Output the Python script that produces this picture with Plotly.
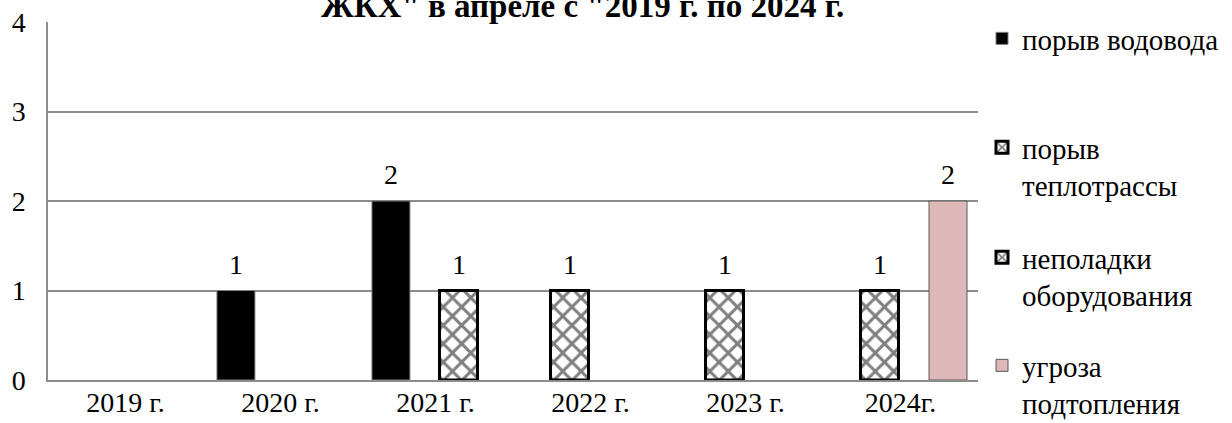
import plotly.graph_objects as go

# данные с диаграммы
years = ["2019 г.", "2020 г.", "2021 г.", "2022 г.", "2023 г.", "2024г."]
vodovod = [0, 1, 2, 0, 0, 0]          # порыв водовода
teplotrassa = [0, 0, 0, 1, 1, 1]      # порыв теплотрассы
oborudovanie = [0, 0, 1, 0, 0, 0]     # неполадки оборудования
podtoplenie = [0, 0, 0, 0, 0, 2]      # угроза подтопления

title_text = 'ЖКХ" в апреле с "2019 г. по 2024 г.'
y_ticks = [0, 1, 2, 3, 4]

FONT = "Liberation Serif"
W, H = 1232, 423
L, R, T, B = 48, 254, 22, 43
BAR_W = 0.245

hatch = dict(shape="x", fgcolor="black", bgcolor="white", size=13, solidity=0.4)

series = [
    dict(name="порыв водовода", y=vodovod, offset=-0.41,
         marker=dict(color="black", line=dict(color="#7f7f7f", width=1)),
         legend="legend", top=13),
    dict(name="порыв<br>теплотрассы", y=teplotrassa, offset=-0.258,
         marker=dict(color="white", pattern=hatch,
                     line=dict(color="black", width=3)),
         legend="legend2", top=122),
    dict(name="неполадки<br>оборудования", y=oborudovanie, offset=0.026,
         marker=dict(color="white", pattern=hatch,
                     line=dict(color="black", width=3)),
         legend="legend3", top=232),
    dict(name="угроза<br>подтопления", y=podtoplenie, offset=0.184,
         marker=dict(color="#DEB8B9", line=dict(color="#595959", width=1)),
         legend="legend4", top=340),
]

fig = go.Figure()
annotations = []
legends = {}
for s in series:
    fig.add_trace(
        go.Bar(
            x=years,
            y=[v if v else None for v in s["y"]],
            name=s["name"],
            offset=s["offset"],
            width=BAR_W,
            marker=s["marker"],
            legend=s["legend"],
        )
    )
    # подписи значений (только ненулевые)
    for i, v in enumerate(s["y"]):
        if v:
            annotations.append(dict(
                x=i + s["offset"] + BAR_W / 2, y=v, xref="x", yref="y",
                text=str(v), showarrow=False, yanchor="bottom", yshift=9,
                font=dict(family=FONT, size=28, color="black"),
            ))
    legends[s["legend"]] = dict(
        x=982 / W, y=1 - s["top"] / H,
        xref="container", yref="container", xanchor="left", yanchor="top",
        valign="top", bgcolor="rgba(0,0,0,0)", borderwidth=0,
        font=dict(family=FONT, size=29, color="black"),
        itemclick=False,
    )

annotations.append(dict(
    x=(582 - L) / (W - L - R), y=1 + (T - 6) / (H - T - B),
    xref="paper", yref="paper",
    text="<b>" + title_text + "</b>", showarrow=False,
    xanchor="center", yanchor="middle",
    font=dict(family=FONT, size=33, color="black"),
))

fig.update_layout(
    width=W, height=H,
    margin=dict(l=L, r=R, t=T, b=B, autoexpand=False),
    barmode="overlay",
    plot_bgcolor="white", paper_bgcolor="white",
    font=dict(family=FONT, size=28, color="black"),
    annotations=annotations,
    showlegend=True,
    **legends,
)
fig.update_xaxes(
    type="category", showgrid=False, showline=True, linecolor="#8c8c8c",
    linewidth=2, ticks="", ticklabelstandoff=-4,
    tickfont=dict(family=FONT, size=28), fixedrange=True,
)
fig.update_yaxes(
    range=[0, 4], tickvals=y_ticks, showgrid=True, gridcolor="#8c8c8c",
    gridwidth=1.5, showline=True, linecolor="#8c8c8c", linewidth=1.5,
    zeroline=False, ticks="outside", ticklen=15, tickcolor="rgba(0,0,0,0)",
    tickfont=dict(family=FONT, size=28), fixedrange=True,
)

fig.write_html("out.html", config={"displayModeBar": False},
               post_script="document.body.style.margin='0';")
